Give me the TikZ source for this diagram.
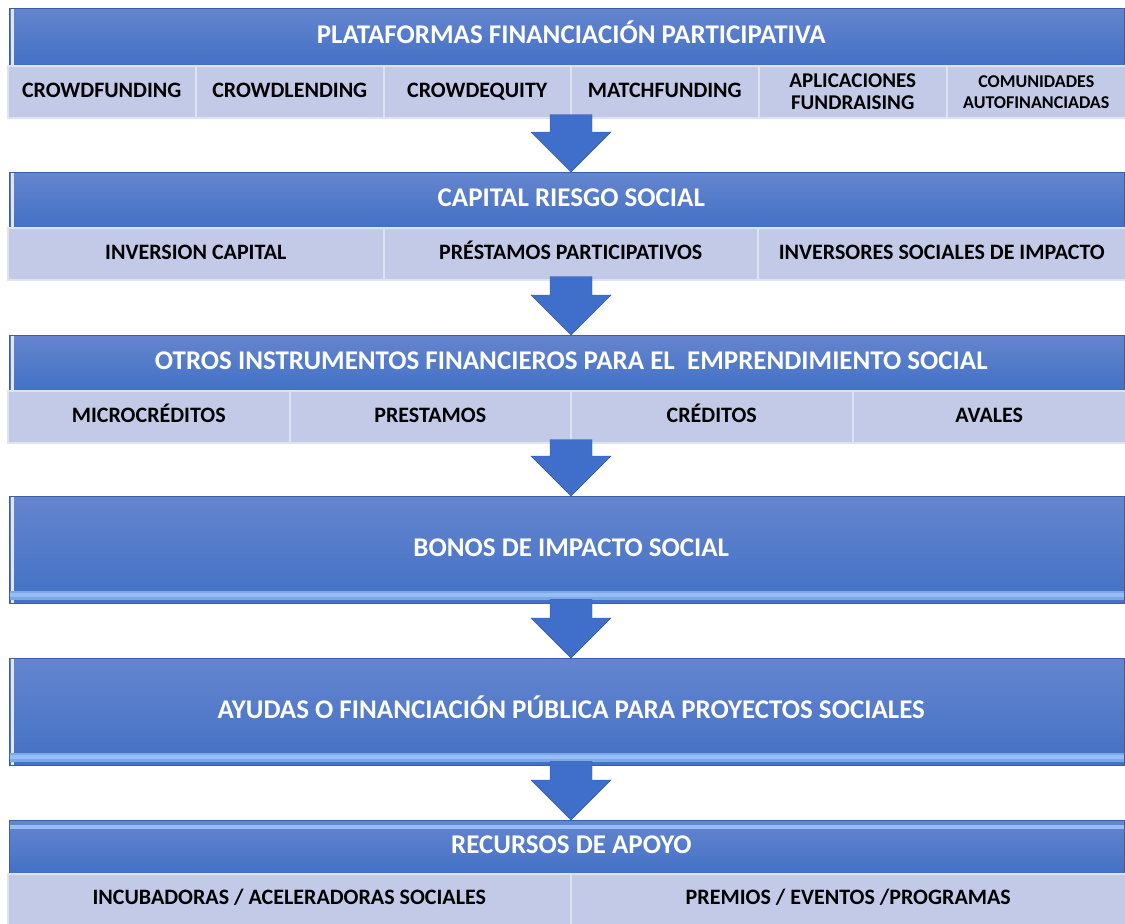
\documentclass[tikz,border=0pt]{standalone}
\usepackage{fontspec}
\setmainfont{Carlito}
\usetikzlibrary{calc}

\definecolor{barTop}{RGB}{101,133,206}
\definecolor{barBot}{RGB}{66,113,198}
\definecolor{barLine}{RGB}{150,190,245}
\definecolor{subFill}{RGB}{194,202,232}
\definecolor{subEdge}{RGB}{222,227,244}
\definecolor{arrowBlue}{RGB}{63,111,202}

\tikzset{
  bar/.style={top color=barTop, bottom color=barBot, draw=barBot!85!black, line width=.6pt,
    text=white, font=\bfseries\fontsize{27}{30}\selectfont, minimum width=1115pt,
    text height=18pt, text depth=5pt, inner sep=0pt, anchor=north west,
    execute at begin node={\hspace*{9pt}},
    path picture={\draw[white!80!barTop, line width=2.5pt]
      ([xshift=3pt]path picture bounding box.north west) --
      ([xshift=3pt]path picture bounding box.south west);}},
  tallbar/.style={bar,
    path picture={\draw[white!80!barTop, line width=2.5pt]
      ([xshift=3pt]path picture bounding box.north west) --
      ([xshift=3pt]path picture bounding box.south west);
      \draw[barLine!70!barBot, line width=9pt]
      ([yshift=8pt]path picture bounding box.south west) --
      ([yshift=8pt]path picture bounding box.south east);
      \draw[barLine, line width=4pt]
      ([yshift=8pt]path picture bounding box.south west) --
      ([yshift=8pt]path picture bounding box.south east);}},
  topbar/.style={bar,
    path picture={\draw[barLine, line width=4pt]
      ([yshift=-7pt]path picture bounding box.north west) --
      ([yshift=-7pt]path picture bounding box.north east);}},
  subbase/.style={fill=subFill, draw=subEdge, line width=1.5pt,
    font=\bfseries\fontsize{22}{23}\selectfont, align=center,
    inner sep=0pt, anchor=north west},
  subbox/.style={subbase, text height=15pt, text depth=4pt},
  blockarrow/.style={fill=arrowBlue, draw=arrowBlue!80!black, line width=.4pt}
}

% block arrow from the bottom of #1 down to the top of #2
\newcommand{\flecha}[2]{%
  \fill[blockarrow] ($(#1.south -| axis)+(-21,-4)$) -- ($(#2.north -| axis)+(-21,-40)$)
    -- ($(#2.north -| axis)+(-40,-40)$) -- (#2.north -| axis)
    -- ($(#2.north -| axis)+(40,-40)$) -- ($(#2.north -| axis)+(21,-40)$)
    -- ($(#1.south -| axis)+(21,-4)$) -- cycle;}

\begin{document}
\begin{tikzpicture}[x=1pt,y=-1pt]
    \useasboundingbox (0,0) rectangle (1125,924);
    \coordinate (axis) at (571,0);

    % plataformas
    \node[bar, minimum height=57pt] (plat) at (9,8) {PLATAFORMAS FINANCIACIÓN PARTICIPATIVA};
    \node[subbox, minimum width=188pt, minimum height=52pt] (crowdf) at (7,65) {CROWDFUNDING};
    \node[subbox, minimum width=188pt, minimum height=52pt] (crowdl) at (195,65) {CROWDLENDING};
    \node[subbox, minimum width=187pt, minimum height=52pt] (crowde) at (383,65) {CROWDEQUITY};
    \node[subbox, minimum width=188pt, minimum height=52pt] (matchf) at (570,65) {MATCHFUNDING};
    \node[subbase, minimum width=188pt, minimum height=52pt, font=\bfseries\fontsize{21}{22}\selectfont] (aplic) at (758,65) {APLICACIONES\\FUNDRAISING};
    \node[subbase, minimum width=179pt, minimum height=52pt, font=\bfseries\fontsize{18}{21}\selectfont] (comun) at (946,65) {COMUNIDADES\\AUTOFINANCIADAS};

    % capital riesgo
    \node[bar, minimum height=55pt] (capital) at (9,172) {CAPITAL RIESGO SOCIAL};
    \node[subbox, minimum width=376pt, minimum height=52pt] (invcap) at (7,227) {INVERSION CAPITAL};
    \node[subbox, minimum width=374pt, minimum height=52pt] (prest) at (383,227) {PRÉSTAMOS PARTICIPATIVOS};
    \node[subbox, minimum width=368pt, minimum height=52pt] (invsoc) at (757,227) {INVERSORES SOCIALES DE IMPACTO};

    % otros instrumentos
    \node[bar, minimum height=55pt] (otros) at (9,335) {OTROS INSTRUMENTOS FINANCIEROS PARA EL~ EMPRENDIMIENTO SOCIAL};
    \node[subbox, minimum width=282pt, minimum height=52pt] (micro) at (7,390) {MICROCRÉDITOS};
    \node[subbox, minimum width=281pt, minimum height=52pt] (presta) at (289,390) {PRESTAMOS};
    \node[subbox, minimum width=282pt, minimum height=52pt] (cred) at (570,390) {CRÉDITOS};
    \node[subbox, minimum width=273pt, minimum height=52pt] (avales) at (852,390) {AVALES};

    \node[tallbar, minimum height=107pt] (bonos) at (9,496) {BONOS DE IMPACTO SOCIAL};
    \node[tallbar, minimum height=107pt] (ayudas) at (9,658) {AYUDAS O FINANCIACIÓN PÚBLICA PARA PROYECTOS SOCIALES};

    % recursos
    \node[topbar, minimum height=53pt] (recursos) at (9,820) {RECURSOS DE APOYO};
    \node[subbox, minimum width=563pt, minimum height=51pt] (incub) at (7,873) {INCUBADORAS / ACELERADORAS SOCIALES};
    \node[subbox, minimum width=555pt, minimum height=51pt] (premios) at (570,873) {PREMIOS / EVENTOS /PROGRAMAS};

    \flecha{matchf}{capital}
    \flecha{prest}{otros}
    \flecha{cred}{bonos}
    \flecha{bonos}{ayudas}
    \flecha{ayudas}{recursos}

  \end{tikzpicture}
\end{document}
